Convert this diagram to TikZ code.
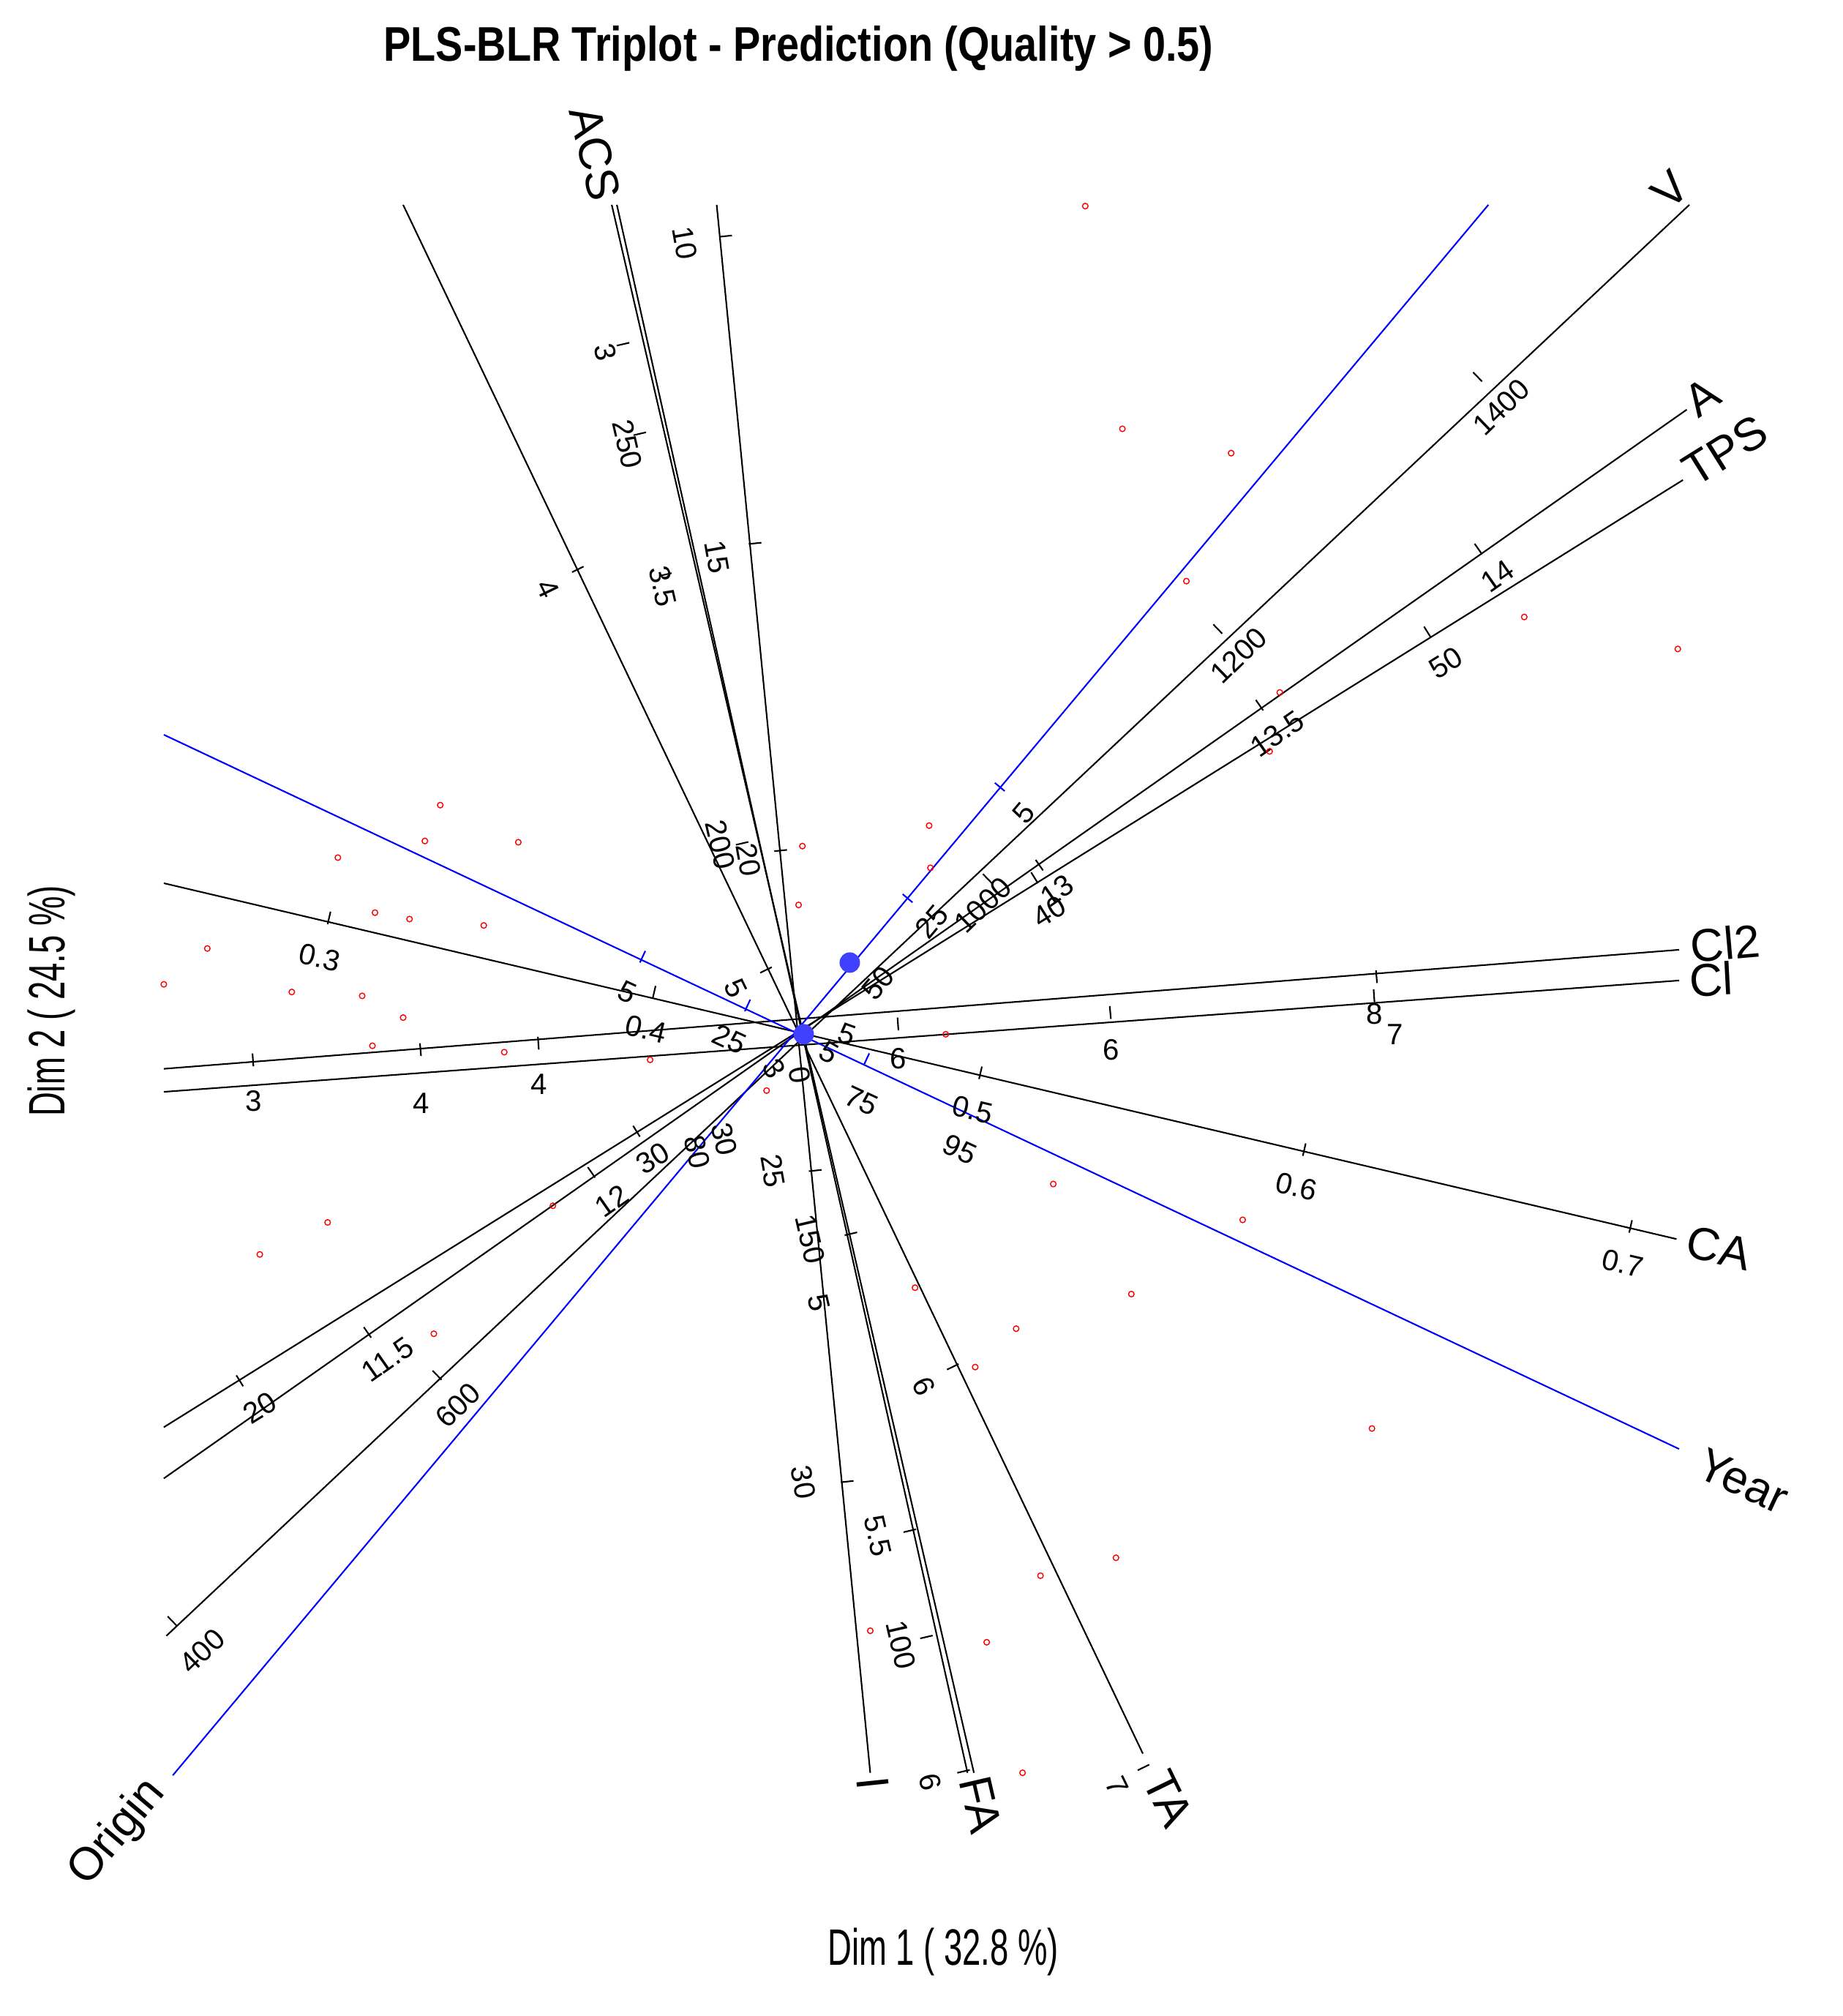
\documentclass[tikz,border=0pt]{standalone}
\usepackage{fontspec}
\setmainfont{Liberation Sans}
\usetikzlibrary{calc}
\begin{document}
\begin{tikzpicture}[x=1pt,y=-1pt,
  ax/.style={black,line width=1.2pt},
  bax/.style={blue,line width=1.2pt},
  tl/.style={font=\fontsize{23}{23}\selectfont,inner sep=0pt},
  an/.style={font=\fontsize{36}{36}\selectfont,inner sep=0pt},
  pt/.style={red,line width=0.8pt},
  tk/.style={line width=1.2pt}]
\useasboundingbox (0,0) rectangle (1440,1575);
\coordinate (C) at (628,808);
% black axes
\foreach \a/\b in {{(478,160)}/{(761,1385)},{(482,160)}/{(756,1385)},{(315,160)}/{(893,1370)},{(560,160)}/{(680,1385)},
 {(1320,160)}/{(130,1278)},{(1318,320)}/{(128,1155)},{(1315,375)}/{(128,1115)},
 {(1312,742)}/{(128,835)},{(1312,766)}/{(128,853)},{(1310,968)}/{(128,690)}}
  \draw[ax] \a -- \b;
% blue axes
\draw[bax] (1163,160) -- (135,1387);
\draw[bax] (128,574) -- (1312,1132);
% ticks
\foreach \x/\y/\g in {1158/298/44,955/495/44,775/690/44,345/1078/44,138/1270/44,
 1158/433/35,987/555/35,815/680/35,465/920/35,290/1045/35,
 1118/498/32,811/690/32,500/888/32,190/1083/32,
 256/722/-13,510/780/-13,765/843/-13,1018/903/-13,1273/963/-13,
 198/833/4,329/825/5,421/820/4,702/805/4,868/796/5,1076/768/5,1074/783/4,
 447/447/-64,594/760/-64,740/1070/-64,889/1383/-64,
 562/185/-84,585/425/-84,605/665/-84,632/915/-84,657/1158/-84,
 495/340/-77,482/270/-77,515/450/-77,575/660/-77,660/965/-77,706/1197/-77,719/1280/-77,748/1385/-77}
  \draw[tk,shift={(\x,\y)},rotate=\g] (0,0) -- (0,-10);
\foreach \x/\y/\g in {785/618/50,713/705/50,500/752/-25,582/790/-25,675/832/-25}
  \draw[tk,blue,shift={(\x,\y)},rotate=\g] (0,0) -- (0,-10);
% tick labels
\foreach \x/\y/\g/\t in {1173/318/44/1400,968/512/44/1200,768/707/44/1000,358/1098/44/600,158/1290/44/400,
 1170/450/35/14,998/573/35/13.5,826/696/35/13,478/938/35/12,303/1062/35/11.5,
 1130/518/32/50,820/712/32/40,510/905/32/30,203/1100/32/20,
 250/748/-13/0.3,505/804/-13/0.4,760/867/-13/0.5,1013/927/-13/0.6,1268/987/-13/0.7,
 198/860/0/3,329/862/0/4,421/847/0/4,702/827/0/6,868/820/0/6,1074/792/0/8,1090/808/0/7,
 428/460/-64/4,575/772/-64/5,722/1083/-64/6,873/1395/-64/7,
 535/190/-80/10,560/435/-80/15,585/672/-80/20,604/915/-80/25,628/1158/-80/30,
 473/275/-77/3,490/347/-77/250,518/458/-77/3.5,563/660/-77/200,633/968/-77/150,640/1018/-77/5,
 686/1200/-77/5.5,704/1285/-77/100,727/1392/-77/6,
 800/635/50/5,728/720/50/25,686/768/50/50,490/775/-25/5,570/812/-25/25,673/860/-25/75,750/898/-25/95,
 545/900/-77/80,566/890/-77/30,662/808/-20/5,605/835/-60/3,625/840/-80/0,648/822/-30/5}
  \node[tl,rotate=\g] at (\x,\y) {\t};
% axis names
\node[an,rotate=-77] at (465,120) {ACS};
\node[an,rotate=44] at (1305,148) {V};
\node[an,rotate=35] at (1330,310) {A};
\node[an,rotate=32] at (1348,352) {TPS};
\node[an,rotate=5] at (1348,737) {Cl2};
\node[an,rotate=3] at (1337,765) {Cl};
\node[an,rotate=-13] at (1343,975) {CA};
\node[an,rotate=-25] at (1362,1157) {Year};
\node[an,rotate=-77] at (766,1410) {FA};
\node[an,rotate=-64] at (913,1405) {TA};
\node[an,rotate=-84] at (682,1393) {I};
\node[an,rotate=50] at (92,1432) {Origin};
% red points
\foreach \p in {(848,161),(877,335),(962,354),(927,454),(1191,482),(1311,507),(1000,541),(992,587),(344,629),(332,657),(405,658),(264,670),(627,661),(726,645),(727,678),(624,707),(293,713),(320,718),(378,723),(162,741),(128,769),(228,775),(283,778),(315,795),(291,817),(394,822),(508,828),(739,808),(599,852),(823,925),(432,942),(971,953),(256,955),(203,980),(715,1006),(884,1011),(794,1038),(762,1068),(339,1042),(1072,1116),(813,1231),(872,1217),(771,1283),(680,1274),(799,1385)}
  \draw[pt] \p circle (2.2);
% blue dots
\fill[blue!75!white] (C) circle (8);
\node[fill=blue!75!white,circle,inner sep=0pt,minimum size=16pt] (d2) at (664,752) {};
% titles
\node[font=\bfseries\fontsize{38}{38}\selectfont] (ti) at (624,38) {\scalebox{0.84}[1]{PLS-BLR Triplot - Prediction (Quality > 0.5)}};
\node[font=\fontsize{40}{40}\selectfont] (x1) at (737,1525) {\scalebox{0.65}[1]{Dim 1 ( 32.8 \%)}};
\node[font=\fontsize{40}{40}\selectfont,rotate=90] (y1) at (40,782) {\scalebox{0.65}[1]{Dim 2 ( 24.5 \%)}};
\end{tikzpicture}
\end{document}
